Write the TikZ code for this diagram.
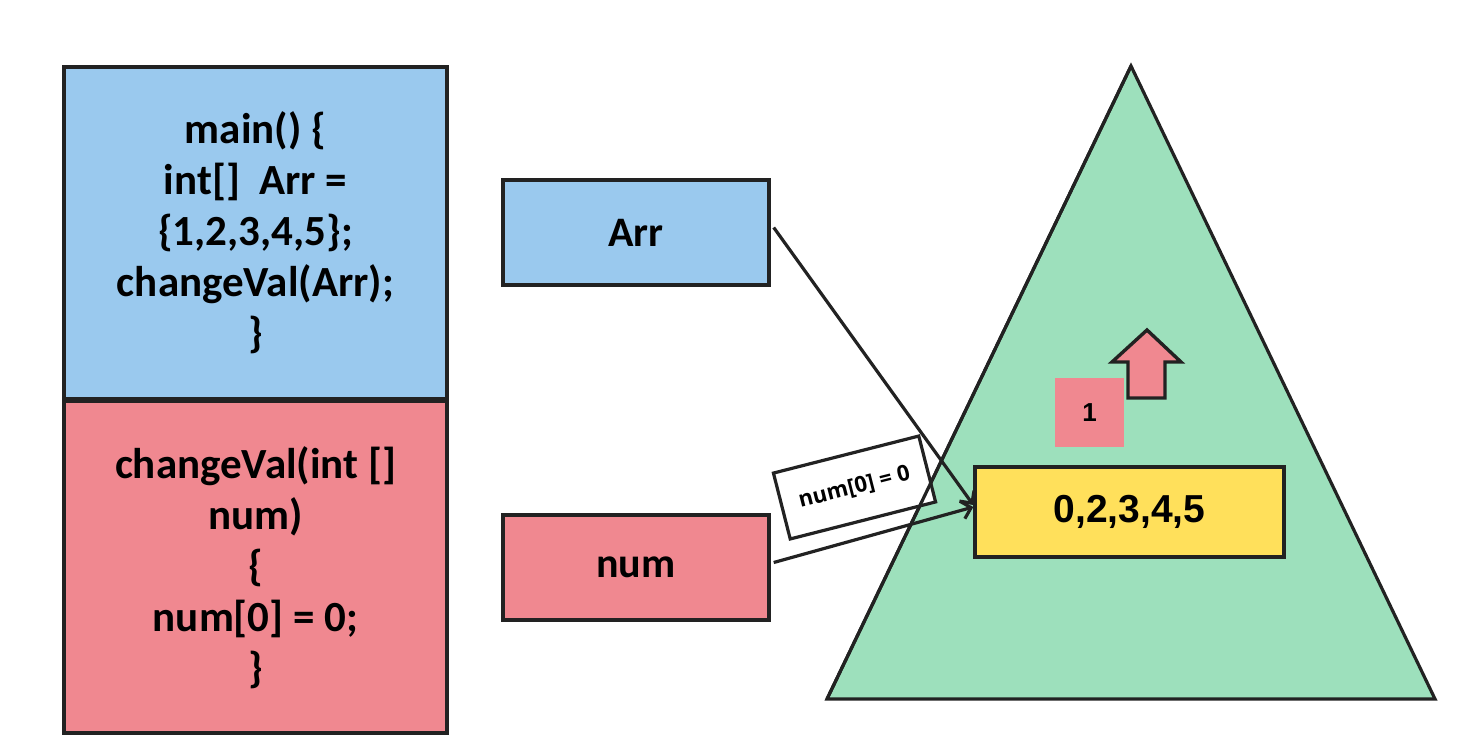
\documentclass[tikz,border=0pt]{standalone}
\usepackage{fontspec}
\setmainfont{Carlito}
\newfontfamily\arialf{Liberation Sans}
\newfontfamily\opensf{Open Sans}
\usetikzlibrary{arrows.meta}
\definecolor{cblue}{HTML}{9AC9EE}
\definecolor{cred}{HTML}{F08890}
\definecolor{cgreen}{HTML}{9DE0BC}
\definecolor{cyellow}{HTML}{FFE05B}
\definecolor{cline}{HTML}{222222}
\begin{document}
\begin{tikzpicture}[x=1pt,y=-1pt,
  box/.style={draw=cline,line width=3.4pt,inner sep=0pt},
  code/.style={font=\fontsize{43}{51}\selectfont\bfseries,align=center},
  conn/.style={draw=cline,line width=3.2pt,-{Straight Barb[length=9pt,width=18pt,line width=3.2pt]}}]
\useasboundingbox (0,0) rectangle (1472,752);
% left stack
\draw[box,fill=cblue] (64,67) rectangle (447,399);
\draw[box,fill=cred] (64,401) rectangle (447,733);
\node[code] (mainc) at (255.5,233) {main() \{\\int[]~ Arr =\\\{1,2,3,4,5\};\\changeVal(Arr);\\\}};
\node[code] (chc) at (255.5,568) {changeVal(int []\\num)\\\{\\num[0] = 0;\\\}};
% variable boxes
\node[box,fill=cblue,minimum width=266pt,minimum height=105pt,font=\fontsize{42}{48}\selectfont\bfseries] (arr) at (636,232.5) {Arr};
\node[box,fill=cred,minimum width=266pt,minimum height=105pt,font=\fontsize{42}{48}\selectfont\bfseries] (num) at (636,567.5) {num};
% triangle heap
\coordinate (apex) at (1131,66);
\coordinate (bl) at (827,699);
\coordinate (br) at (1435,699);
\draw[draw=cline,line width=3.2pt,fill=cgreen,line join=miter] (apex) -- (br) -- (bl) -- cycle;
% pink square
\node[fill=cred,minimum width=69pt,minimum height=69pt,inner sep=0pt,font=\arialf\fontsize{26}{30}\selectfont\bfseries] (one) at (1089.5,412.5) {1};
% up arrow
\draw[draw=cline,line width=3.4pt,fill=cred] (1147,330) -- (1181,362) -- (1165,362) -- (1165,398) -- (1128,398) -- (1128,362) -- (1112,362) -- cycle;
% yellow box
\node[box,fill=cyellow,minimum width=309pt,minimum height=90pt,font=\arialf\fontsize{39}{44}\selectfont\bfseries] (vals) at (1129.5,512) {0,2,3,4,5};
% rotated label
\node[draw=cline,line width=3.2pt,fill=white,rotate=14.3,minimum width=150pt,minimum height=68pt,inner sep=0pt,font=\opensf\fontsize{22}{26}\selectfont\bfseries] (lbl) at (854.5,487.5) {num[0] = 0};
% triangle left edge over the label
\draw[draw=cline,line width=3.2pt] (apex) -- (bl);
% connectors
\draw[conn] (arr.east) ++(3,-5) coordinate (a1) -- (vals.west |- 0,505);
\draw[conn] (num.east) ++(3,-5) coordinate (n1) -- (vals.west |- 0,507);
\end{tikzpicture}
\end{document}
